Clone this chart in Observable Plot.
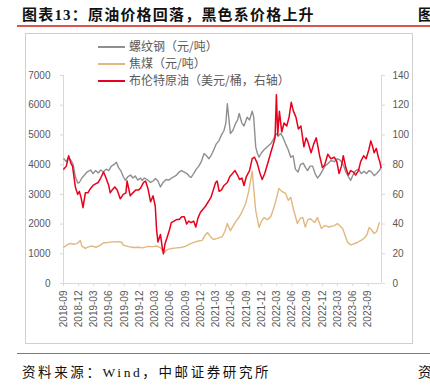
<!DOCTYPE html>
<html>
<head>
<meta charset="utf-8">
<script src="https://cdn.jsdelivr.net/npm/d3@7"></script>
<script src="https://cdn.jsdelivr.net/npm/@observablehq/plot@0.6"></script>
<style>
  body { margin: 0; background: #fff; }
  #page { position: relative; width: 430px; height: 385px; overflow: hidden; background: #fff; }
  .abs { position: absolute; white-space: nowrap; }
  .title { font-family: "Liberation Serif", "Noto Sans CJK SC", serif; font-weight: bold; font-size: 15px; letter-spacing: 1.2px; color: #111; }
  .foot { font-family: "Liberation Serif", "Noto Sans CJK SC", serif; font-size: 13.5px; letter-spacing: 2.6px; color: #111; }
  .rule { position: absolute; height: 1.5px; background: #d9534f; }
  .frame { position: absolute; border: 1px solid #cfcfcf; box-sizing: border-box; }
  .leg { position: absolute; font-family: "Noto Sans CJK SC", sans-serif; font-size: 12px; color: #595959; line-height: 14px; white-space: nowrap; }
  .leg span.sw { display: inline-block; width: 27px; height: 2px; vertical-align: middle; margin-right: 4px; position: relative; top: -1px; }
  #chart { position: absolute; left: 25px; top: 33px; }
</style>
</head>
<body>
<div id="page">
  <div class="abs title" style="left:22px; top:3px;">图表13：原油价格回落，黑色系价格上升</div>
  <div class="abs title" style="left:418px; top:3px;">图</div>
  <div class="rule" style="left:17px; top:25px; width:413px;"></div>
  <div class="frame" style="left:25px; top:33px; width:388px; height:311px;"></div>
  <div id="chart"></div>
  <div id="legend"></div>
  <div class="rule" style="left:17px; top:352.5px; width:413px;"></div>
  <div class="abs foot" style="left:22px; top:361px;">资料来源：Wind，中邮证券研究所</div>
  <div class="abs foot" style="left:418px; top:361px;">资</div>
</div>
<script>
// ---- data ----
const seriesNames = ["螺纹钢（元/吨）", "焦煤（元/吨）", "布伦特原油（美元/桶，右轴）"];
const seriesColors = ["#8f8f8f", "#e2b77f", "#e8001c"];

const xTickLabels = ["2018-09","2018-12","2019-03","2019-06","2019-09","2019-12","2020-03","2020-06","2020-09","2020-12","2021-03","2021-06","2021-09","2021-12","2022-03","2022-06","2022-09","2022-12","2023-03","2023-06","2023-09"];
const leftTicks = [0, 1000, 2000, 3000, 4000, 5000, 6000, 7000];
const rightTicks = [0, 20, 40, 60, 80, 100, 120, 140];

const rebar = [
["2018-09-03",4200],["2018-09-17",4100],["2018-10-01",4250],["2018-10-15",4150],["2018-10-29",4000],
["2018-11-11",3600],["2018-11-25",3380],["2018-12-05",3400],["2018-12-20",3550],["2019-01-05",3650],
["2019-01-20",3750],["2019-02-10",3820],["2019-02-25",3700],["2019-03-12",3800],["2019-03-28",3720],
["2019-04-12",3820],["2019-04-28",3750],["2019-05-14",3850],["2019-05-30",3800],["2019-06-15",3950],
["2019-06-30",4000],["2019-07-15",4080],["2019-07-28",3900],["2019-08-10",3800],["2019-08-25",3600],
["2019-09-07",3470],["2019-09-22",3600],["2019-10-08",3650],["2019-10-22",3550],["2019-11-05",3620],
["2019-11-20",3480],["2019-12-06",3550],["2019-12-16",3470],["2019-12-30",3550],["2020-01-15",3500],
["2020-02-05",3400],["2020-02-20",3450],["2020-03-05",3530],["2020-03-20",3450],["2020-04-04",3250],
["2020-04-20",3400],["2020-05-08",3500],["2020-05-24",3480],["2020-06-10",3550],["2020-06-25",3600],
["2020-07-10",3650],["2020-07-25",3750],["2020-08-08",3800],["2020-08-25",3750],["2020-09-10",3700],
["2020-09-25",3600],["2020-10-05",3570],["2020-10-20",3700],["2020-11-05",3850],["2020-11-20",3950],
["2020-12-05",4100],["2020-12-21",4370],["2021-01-05",4300],["2021-01-20",4200],["2021-02-01",4300],
["2021-02-18",4500],["2021-03-05",4700],["2021-03-20",4800],["2021-04-05",5000],["2021-04-20",5150],
["2021-05-01",5400],["2021-05-10",6050],["2021-05-20",5500],["2021-05-28",5050],["2021-06-12",5150],
["2021-06-28",5380],["2021-07-10",5500],["2021-07-20",5720],["2021-08-05",5400],["2021-08-18",5300],
["2021-09-06",5600],["2021-09-20",5500],["2021-10-06",5800],["2021-10-15",5600],["2021-10-27",4600],
["2021-11-05",4400],["2021-11-16",4250],["2021-12-01",4400],["2021-12-16",4500],["2022-01-05",4600],
["2022-01-25",4700],["2022-02-10",4850],["2022-02-25",5050],["2022-03-10",4950],["2022-03-25",5050],
["2022-04-10",4900],["2022-04-24",4700],["2022-05-10",4500],["2022-05-25",4250],["2022-06-08",4300],
["2022-06-22",3850],["2022-07-08",3750],["2022-07-22",4000],["2022-08-08",4050],["2022-08-22",3900],
["2022-09-03",3800],["2022-09-18",3950],["2022-10-03",3950],["2022-10-18",3700],["2022-11-01",3550],
["2022-11-16",3650],["2022-12-01",3800],["2022-12-16",3950],["2023-01-05",4050],["2023-01-21",4140],
["2023-02-10",4100],["2023-02-28",4200],["2023-03-19",4140],["2023-04-05",4000],["2023-04-20",3750],
["2023-05-05",3600],["2023-05-19",3470],["2023-06-02",3650],["2023-06-18",3800],["2023-07-05",3850],
["2023-07-22",3700],["2023-08-07",3780],["2023-08-22",3700],["2023-09-07",3800],["2023-09-22",3750],
["2023-10-07",3630],["2023-10-22",3700],["2023-11-07",3800],["2023-11-17",3900]
];

const coke = [
["2018-09-03",1220],["2018-09-20",1290],["2018-10-10",1350],["2018-10-30",1320],["2018-11-20",1340],
["2018-12-11",1450],["2018-12-20",1260],["2019-01-10",1180],["2019-02-01",1240],["2019-02-20",1260],
["2019-03-15",1220],["2019-04-10",1290],["2019-04-29",1370],["2019-05-25",1380],["2019-06-20",1400],
["2019-07-28",1410],["2019-08-15",1390],["2019-08-25",1290],["2019-09-25",1240],["2019-10-25",1210],
["2019-11-25",1220],["2019-12-20",1200],["2020-01-20",1250],["2020-02-20",1240],["2020-03-15",1260],
["2020-04-05",1200],["2020-04-24",1040],["2020-05-15",1140],["2020-06-10",1180],["2020-07-10",1200],
["2020-08-05",1210],["2020-09-01",1250],["2020-10-01",1340],["2020-11-10",1420],["2020-12-10",1450],
["2020-12-25",1600],["2021-01-11",1716],["2021-01-25",1600],["2021-02-15",1480],["2021-03-10",1520],
["2021-04-10",1580],["2021-04-25",1750],["2021-05-10",2020],["2021-05-28",1780],["2021-06-15",1950],
["2021-07-01",2100],["2021-07-18",2220],["2021-08-05",2400],["2021-08-28",2690],["2021-09-15",3100],
["2021-10-06",3780],["2021-10-15",3200],["2021-10-27",2460],["2021-11-16",1885],["2021-12-01",2100],
["2021-12-16",2220],["2022-01-05",2150],["2022-01-25",2250],["2022-02-10",2500],["2022-02-25",2790],
["2022-03-15",3200],["2022-04-01",3100],["2022-04-24",3030],["2022-05-10",2800],["2022-05-25",2900],
["2022-06-10",2500],["2022-07-04",2020],["2022-07-22",2200],["2022-08-05",2220],["2022-08-20",1900],
["2022-09-05",2150],["2022-09-20",2180],["2022-10-15",2050],["2022-11-01",2220],["2022-11-25",1850],
["2022-12-15",1950],["2023-01-10",1900],["2023-02-10",1950],["2023-03-01",2020],["2023-04-01",1850],
["2023-04-30",1400],["2023-05-19",1300],["2023-06-05",1330],["2023-06-28",1380],["2023-07-20",1450],
["2023-08-07",1515],["2023-08-25",1650],["2023-09-07",1885],["2023-09-22",1800],["2023-10-07",1680],
["2023-10-22",1750],["2023-11-07",2050]
];

const brent = [
["2018-09-03",77],["2018-09-18",79],["2018-10-02",86],["2018-10-15",81],["2018-10-25",79],
["2018-11-11",65],["2018-11-25",60],["2018-12-05",62],["2018-12-15",58],["2018-12-27",51],
["2019-01-10",61],["2019-01-25",61],["2019-02-10",64],["2019-02-25",66],["2019-03-12",67],
["2019-03-28",68],["2019-04-12",71],["2019-04-29",75],["2019-05-14",71],["2019-05-30",66],
["2019-06-08",61],["2019-06-20",63],["2019-07-05",65],["2019-07-20",63],["2019-08-07",57],
["2019-08-25",60],["2019-09-10",61],["2019-09-17",69],["2019-10-06",59],["2019-10-22",61],
["2019-11-08",63],["2019-11-25",63],["2019-12-06",64],["2019-12-25",68],["2020-01-06",69],
["2020-01-20",64],["2020-02-05",55],["2020-02-20",59],["2020-03-04",52],["2020-03-12",36],
["2020-03-20",28],["2020-04-04",33],["2020-04-14",25],["2020-04-22",20],["2020-05-02",27],
["2020-05-14",31],["2020-05-28",36],["2020-06-08",41],["2020-06-24",42],["2020-07-10",43],
["2020-07-25",43],["2020-08-10",45],["2020-08-25",45],["2020-09-08",40],["2020-09-20",42],
["2020-10-05",41],["2020-10-20",42],["2020-11-02",38],["2020-11-15",44],["2020-11-30",48],
["2020-12-15",50],["2020-12-30",52],["2021-01-15",55],["2021-02-01",58],["2021-02-15",63],
["2021-03-01",68],["2021-03-10",69],["2021-03-22",62],["2021-04-05",63],["2021-04-20",66],
["2021-05-10",68],["2021-05-25",72],["2021-06-10",74],["2021-06-25",76],["2021-07-10",73],
["2021-07-22",70],["2021-08-05",71],["2021-08-18",66],["2021-09-01",72],["2021-09-20",76],
["2021-10-06",84],["2021-10-20",85],["2021-11-05",81],["2021-11-22",74],["2021-12-05",70],
["2021-12-20",74],["2022-01-10",82],["2022-01-25",88],["2022-02-10",94],["2022-02-20",98],
["2022-02-28",127],["2022-03-08",100],["2022-03-18",116],["2022-04-01",102],["2022-04-15",108],
["2022-05-01",106],["2022-05-15",112],["2022-05-28",122],["2022-06-10",116],["2022-06-25",112],
["2022-07-10",104],["2022-07-25",106],["2022-08-12",92],["2022-08-25",98],["2022-09-03",96],
["2022-09-24",88],["2022-10-10",94],["2022-10-25",98],["2022-11-14",86],["2022-12-01",78],
["2022-12-15",80],["2023-01-02",87],["2023-01-20",84],["2023-02-10",85],["2023-02-25",82],
["2023-03-11",74],["2023-03-25",79],["2023-04-05",86],["2023-04-20",78],["2023-05-05",73],
["2023-05-19",76],["2023-06-05",75],["2023-06-18",73],["2023-07-05",76],["2023-07-18",82],
["2023-08-05",86],["2023-08-20",84],["2023-09-05",90],["2023-09-17",96],["2023-09-28",92],
["2023-10-07",88],["2023-10-20",91],["2023-11-01",85],["2023-11-10",82],["2023-11-17",78]
];

// ---- build ----
const parse = d3.utcParse("%Y-%m-%d");
const ratio = 7000 / 140; // right axis maps onto left axis
const toRows = (arr, k, scale) => arr.map(([d, v]) => ({date: parse(d), value: v * scale, series: seriesNames[k]}));
const rowsRebar = toRows(rebar, 0, 1);
const rowsCoke = toRows(coke, 1, 1);
const rowsBrent = toRows(brent, 2, ratio);
const xTicks = xTickLabels.map(s => d3.utcParse("%Y-%m")(s));
const xDomain = [parse("2018-09-01"), parse("2023-11-20")];
const axisColor = "#d9d9d9";

const chart = Plot.plot({
  width: 388,
  height: 311,
  marginLeft: 38,
  marginRight: 32,
  marginTop: 42,
  marginBottom: 61,
  style: {fontFamily: "'Liberation Sans', Arial, sans-serif", fontSize: "10px", color: "#595959", background: "transparent", overflow: "visible"},
  x: {type: "utc", domain: xDomain},
  y: {domain: [0, 7000]},
  marks: [
    Plot.ruleX([xDomain[0]], {stroke: axisColor}),
    Plot.ruleX([xDomain[1]], {stroke: axisColor}),
    Plot.ruleY([0], {stroke: axisColor}),
    Plot.axisY({anchor: "left", ticks: leftTicks, tickSize: 3, tickPadding: 10, stroke: axisColor, label: null, tickFormat: d => String(d)}),
    Plot.axisY({anchor: "right", ticks: rightTicks.map(v => v * ratio), tickSize: 3, tickPadding: 8, stroke: axisColor, label: null, tickFormat: d => String(Math.round(d / ratio))}),
    Plot.axisX({ticks: xTicks, tickFormat: d3.utcFormat("%Y-%m"), tickRotate: -90, tickSize: 3, tickPadding: 4, stroke: axisColor, label: null}),
    Plot.line(rowsRebar, {x: "date", y: "value", stroke: seriesColors[0], strokeWidth: 1.4}),
    Plot.line(rowsCoke, {x: "date", y: "value", stroke: seriesColors[1], strokeWidth: 1.4}),
    Plot.line(rowsBrent, {x: "date", y: "value", stroke: seriesColors[2], strokeWidth: 1.5})
  ]
});
document.getElementById("chart").appendChild(chart);

// legend
const legend = document.getElementById("legend");
const legendTops = [39, 56, 73];
seriesNames.forEach((name, i) => {
  const div = document.createElement("div");
  div.className = "leg";
  div.style.left = "98px";
  div.style.top = legendTops[i] + "px";
  div.innerHTML = `<span class="sw" style="background:${seriesColors[i]}"></span>${name}`;
  legend.appendChild(div);
});
</script>
</body>
</html>
